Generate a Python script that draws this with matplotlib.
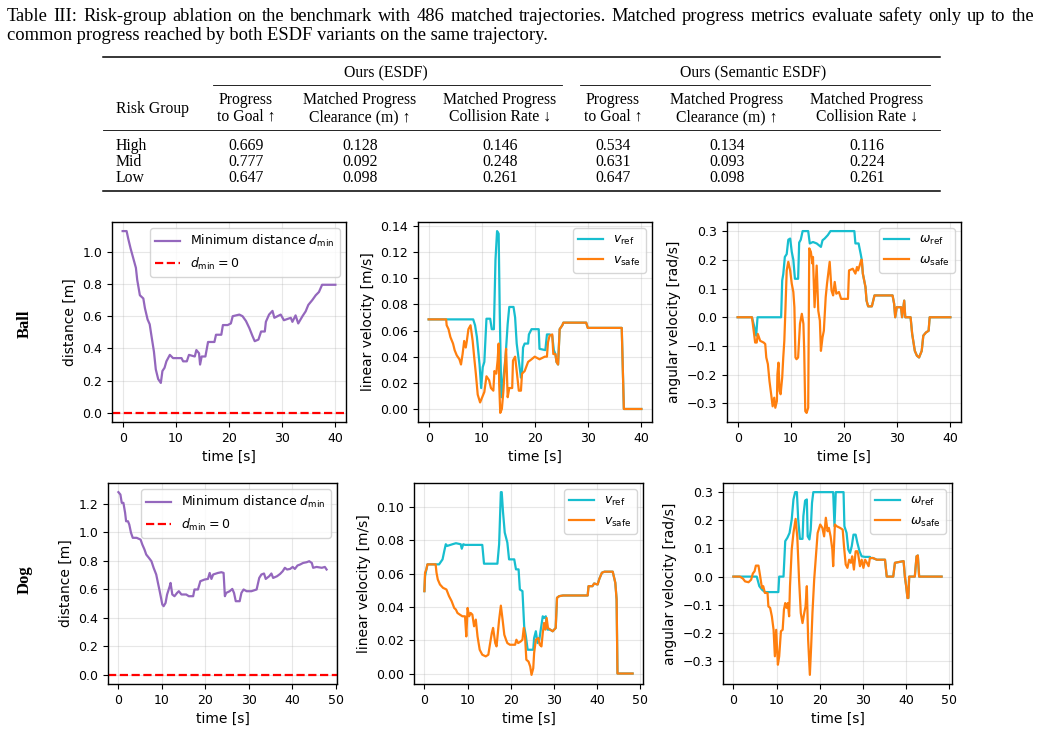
import numpy as np
import matplotlib.pyplot as plt
from matplotlib.lines import Line2D

W, H = 1041, 735
SERIF = ['Liberation Serif', 'DejaVu Serif']

# ---------------- table data ----------------
caption_1 = ("Table III: Risk-group ablation on the benchmark with 486 matched trajectories. "
             "Matched progress metrics evaluate safety only up to the")
caption_2 = "common progress reached by both ESDF variants on the same trajectory."
method_groups = ["Ours (ESDF)", "Ours (Semantic ESDF)"]
col_head_1 = ["Progress", "Matched Progress", "Matched Progress"] * 2
col_head_2 = ["to Goal ↑", "Clearance (m) ↑", "Collision Rate ↓"] * 2
risk_groups = ["High", "Mid", "Low"]
table_vals = [
    [0.669, 0.128, 0.146, 0.534, 0.134, 0.116],
    [0.777, 0.092, 0.248, 0.631, 0.093, 0.224],
    [0.647, 0.098, 0.261, 0.647, 0.098, 0.261],
]

# ---------------- Ball ----------------
ball_d_t = [0, 0.75, 1.06, 1.5, 2, 2.5, 2.75, 3.25, 3.9, 4.2, 4.7, 5.1, 5.4, 5.9, 6.25, 6.7, 7.2, 7.5, 7.9, 8.25,
            8.9, 9.5, 11.1, 11.4, 12.1, 12.5, 13.6, 13.9, 14.4, 14.6, 14.9, 15.6, 16.1, 17.3, 17.6, 18.6, 18.9, 19.8,
            20.4, 20.75, 22, 22.6, 23.25, 23.9, 24.5, 24.9, 25.6, 26.1, 26.8, 27, 27.6, 28.25, 28.6, 29.8, 30.4, 31.7,
            32, 32.6, 33.1, 33.9, 34.5, 35, 35.75, 36.4, 37, 37.6, 40.1]
ball_d = [1.128, 1.128, 1.08, 1.02, 0.96, 0.90, 0.825, 0.73, 0.71, 0.65, 0.58, 0.55, 0.485, 0.38, 0.27, 0.21, 0.186,
          0.26, 0.28, 0.32, 0.36, 0.34, 0.34, 0.32, 0.32, 0.36, 0.35, 0.39, 0.37, 0.30, 0.35, 0.35, 0.44, 0.44, 0.485,
          0.485, 0.545, 0.545, 0.555, 0.60, 0.61, 0.60, 0.57, 0.525, 0.475, 0.445, 0.455, 0.505, 0.505, 0.565, 0.61,
          0.633, 0.59, 0.61, 0.575, 0.59, 0.565, 0.605, 0.555, 0.60, 0.63, 0.67, 0.70, 0.73, 0.75, 0.795, 0.795]

ball_vref_t = [0, 8.4, 8.75, 9.1, 9.6, 9.9, 10.2, 10.5, 10.9, 11.6, 11.9, 12.3, 12.6, 12.9, 13.2, 13.4, 13.7, 14.1,
               14.5, 14.9, 15.2, 16, 16.3, 16.6, 17, 17.4, 17.6, 17.8, 18.1, 18.75, 18.9, 19.4, 20.75, 20.9, 22, 22.3,
               22.8, 23.3, 23.6]
ball_vref = [0.0685, 0.0685, 0.064, 0.055, 0.034, 0.016, 0.032, 0.036, 0.069, 0.069, 0.061, 0.061, 0.114, 0.136,
             0.134, 0.075, 0.009, 0.024, 0.040, 0.065, 0.078, 0.078, 0.070, 0.050, 0.037, 0.024, 0.029, 0.047, 0.050,
             0.050, 0.057, 0.061, 0.061, 0.046, 0.045, 0.057, 0.057, 0.056, 0.045]
ball_vsafe_t = [0, 3.3, 3.4, 3.75, 4.1, 4.6, 4.9, 5.3, 5.8, 6.1, 6.4, 6.7, 7, 7.2, 7.5, 7.9, 8.3, 8.6, 8.9, 9.25,
                9.7, 10.1, 10.5, 10.9, 11.4, 11.75, 12.2, 12.4, 12.75, 13, 13.2, 13.3, 13.5, 13.8, 14.1, 14.4, 14.6,
                14.9, 15.2, 15.75, 15.9, 16.3, 16.6, 17, 17.4, 17.6, 18.1, 18.75, 19.4, 20, 20.9, 21.9, 22.3, 22.5,
                22.8, 23.3, 23.5]
ball_vsafe = [0.0685, 0.0685, 0.064, 0.061, 0.055, 0.050, 0.045, 0.041, 0.038, 0.034, 0.042, 0.052, 0.047, 0.052,
              0.061, 0.064, 0.052, 0.039, 0.027, 0.011, 0.005, 0.009, 0.013, 0.025, 0.022, 0.016, 0.014, 0.029, 0.027,
              0.037, 0.050, 0.019, -0.003, 0.0, 0.014, 0.034, 0.046, 0.009, 0.016, 0.016, 0.037, 0.040, 0.029, 0.014,
              0.014, 0.027, 0.029, 0.036, 0.038, 0.040, 0.038, 0.040, 0.040, 0.051, 0.056, 0.057, 0.042]
# both velocity commands coincide after ~24 s
ball_v_tail_t = [23.9, 24.1, 24.4, 24.7, 25.2, 25.4, 29.7, 30, 32.5, 32.8, 36.4, 36.8, 40.1]
ball_v_tail = [0.042, 0.036, 0.034, 0.061, 0.064, 0.066, 0.066, 0.062, 0.062, 0.062, 0.062, 0.0, 0.0]

ball_wref_t = [0, 2.7, 3.1, 3.5, 3.75, 8.2, 8.4, 8.6, 8.9, 9.25, 9.55, 9.9, 10.2, 10.5, 10.8, 11.4, 11.6, 11.9,
               12.25, 13.3, 13.6, 14.2, 14.9, 15.7, 16, 16.4, 17, 17.5, 22, 22.2, 22.8, 23.2]
ball_wref = [0, 0, -0.03, -0.064, 0, 0, 0.128, 0.15, 0.21, 0.22, 0.27, 0.274, 0.228, 0.2, 0.134, 0.134, 0.26, 0.27,
             0.3, 0.3, 0.257, 0.262, 0.257, 0.245, 0.268, 0.274, 0.286, 0.3, 0.3, 0.257, 0.257, 0.22]
ball_wsafe_t = [0, 2.7, 3.1, 3.3, 3.6, 3.8, 4.25, 4.9, 5.2, 5.4, 5.7, 6, 6.4, 6.6, 6.9, 7.1, 7.4, 7.5, 7.7, 7.9,
                8.1, 8.4, 8.6, 8.8, 9, 9.25, 9.55, 9.9, 10.2, 10.5, 10.7, 10.9, 11.1, 11.4, 11.75, 12.1, 12.4, 12.55,
                12.75, 13, 13.3, 13.5, 13.8, 14.1, 14.2, 14.5, 14.9, 15.2, 15.5, 15.7, 16, 16.25, 16.6, 16.85, 17,
                17.35, 17.7, 18, 18.3, 18.6, 19.1, 19.5, 20.8, 21, 21.7, 22.2, 22.5, 22.7, 23, 23.3]
ball_wsafe = [0, 0, -0.058, -0.088, -0.088, -0.058, -0.082, -0.088, -0.093, -0.14, -0.163, -0.222, -0.28, -0.31,
              -0.28, -0.315, -0.292, -0.198, -0.158, -0.257, -0.268, -0.21, -0.14, -0.082, 0.023, 0.163, 0.193,
              0.163, 0.117, 0.088, 0.035, -0.14, -0.146, -0.14, -0.023, 0.012, -0.023, -0.117, -0.327, -0.333,
              -0.315, 0.24, 0.228, 0.187, 0.21, 0.035, 0.18, 0.023, -0.012, -0.117, -0.07, -0.047, 0.07, 0.117,
              0.14, 0.193, 0.093, 0.076, 0.123, 0.082, 0.088, 0.064, 0.064, 0.163, 0.169, 0.152, 0.175, 0.163,
              0.18, 0.2]
ball_w_tail_t = [23.4, 23.6, 24.1, 24.3, 24.6, 25.3, 25.8, 29.2, 29.5, 29.7, 30, 30.8, 31, 31.4, 31.6, 32.6, 32.9,
                 33.4, 33.8, 34.2, 34.7, 35, 35.5, 36, 36.2, 40.1]
ball_w_tail = [0.2, 0.152, 0.105, 0.058, 0.038, 0.038, 0.076, 0.076, 0.047, 0.0, 0.035, 0.035, 0.0, 0.058, 0.0,
               0.0, -0.058, -0.117, -0.134, -0.14, -0.117, -0.064, -0.053, -0.047, 0.0, 0.0]

# ---------------- Dog ----------------
dog_d_t = [0, 0.46, 0.77, 1.15, 1.54, 1.77, 2.2, 2.5, 2.9, 3.3, 4.2, 4.7, 5.1, 5.5, 6, 6.4, 7, 7.6, 8.1, 8.7, 9.1,
           9.5, 9.8, 10.1, 10.4, 10.85, 11.2, 11.8, 12, 12.4, 12.9, 13.5, 13.9, 14.5, 15.6, 16.2, 17.2, 17.5, 18.3,
           18.85, 19.85, 20.6, 21, 21.4, 21.8, 22.9, 23.7, 24.2, 24.5, 24.8, 25.6, 26.2, 26.6, 27, 27.9, 28.3, 28.8,
           29.5, 30.6, 31.8, 32.4, 32.9, 33.5, 33.9, 34.7, 35.2, 35.6, 36.5, 37.2, 37.8, 38.3, 38.8, 39.5, 40.1,
           40.6, 41.2, 41.8, 42.5, 43.3, 43.9, 44.5, 44.8, 45.6, 46.8, 47.5, 47.9]
dog_d = [1.28, 1.263, 1.205, 1.205, 1.135, 1.076, 1.076, 1.053, 0.995, 0.96, 0.96, 0.953, 0.948, 0.913, 0.878,
         0.843, 0.82, 0.796, 0.75, 0.703, 0.644, 0.586, 0.54, 0.493, 0.481, 0.504, 0.563, 0.62, 0.644, 0.563, 0.551,
         0.574, 0.586, 0.563, 0.563, 0.551, 0.551, 0.598, 0.598, 0.656, 0.668, 0.672, 0.714, 0.672, 0.703, 0.714,
         0.719, 0.714, 0.551, 0.574, 0.586, 0.602, 0.574, 0.516, 0.516, 0.574, 0.598, 0.586, 0.586, 0.598, 0.679,
         0.703, 0.710, 0.672, 0.691, 0.710, 0.679, 0.691, 0.707, 0.726, 0.75, 0.738, 0.742, 0.756, 0.742, 0.766,
         0.773, 0.784, 0.789, 0.796, 0.784, 0.75, 0.756, 0.75, 0.756, 0.738]

dog_vref_t = [0, 0.15, 0.46, 0.7, 3.4, 4.2, 4.6, 4.95, 5.3, 6.5, 7.3, 8.4, 8.65, 9, 9.4, 13.4, 13.8, 16.9, 17.3,
              17.7, 17.9, 18.2, 18.6, 19.2, 19.6, 20.8, 21.2, 21.8, 22.1, 22.7, 23.1, 23.5, 23.9, 25.2, 25.4, 25.8,
              26.2, 26.6, 27, 27.4, 27.7, 28.1, 28.5]
dog_vref = [0.0495, 0.0585, 0.0626, 0.0656, 0.0656, 0.0686, 0.0736, 0.0777, 0.0767, 0.0777, 0.0783, 0.0777, 0.075,
            0.0777, 0.0773, 0.0773, 0.066, 0.066, 0.0777, 0.109, 0.109, 0.097, 0.0847, 0.0787, 0.0686, 0.0686,
            0.0626, 0.0626, 0.0505, 0.0495, 0.0284, 0.0223, 0.0143, 0.0143, 0.0213, 0.0254, 0.0183, 0.0203, 0.0274,
            0.0344, 0.0334, 0.0344, 0.0264]
dog_vsafe_t = [0, 0.15, 0.46, 0.7, 2.6, 2.8, 3.1, 3.6, 4.3, 5.1, 5.7, 6.3, 6.9, 7.3, 7.65, 8.2, 8.8, 9.4, 9.7, 10,
               10.35, 10.7, 11.1, 11.5, 11.9, 12.3, 12.8, 13.4, 14.2, 14.8, 15.1, 15.6, 15.9, 16.4, 16.7, 17, 17.3,
               17.7, 18.1, 18.5, 18.9, 19.2, 19.8, 21, 21.3, 21.7, 22.3, 22.7, 23, 23.3, 23.6, 24.1, 24.5, 24.8,
               25.2, 25.4, 25.8, 26.4, 26.7, 27.1, 27.4, 27.7, 28, 28.3, 28.6]
dog_vsafe = [0.0495, 0.0606, 0.0626, 0.0656, 0.0656, 0.0606, 0.0565, 0.0535, 0.0515, 0.0505, 0.0465, 0.0435,
             0.0394, 0.0384, 0.0364, 0.0354, 0.0344, 0.0344, 0.0223, 0.0394, 0.0344, 0.0364, 0.0354, 0.0284, 0.0324,
             0.0223, 0.0143, 0.0113, 0.0103, 0.0113, 0.0163, 0.0243, 0.0274, 0.0183, 0.0163, 0.0243, 0.0324, 0.0408,
             0.0324, 0.0233, 0.0203, 0.0183, 0.0173, 0.0173, 0.0203, 0.0183, 0.0193, 0.0203, 0.0274, 0.0223, 0.0083,
             0.0072, 0.0042, -0.0008, 0.0032, 0.0123, 0.0203, 0.0213, 0.0173, 0.0163, 0.0243, 0.0304, 0.0264,
             0.0334, 0.0274]
dog_v_tail_t = [29.1, 29.7, 30.4, 30.7, 31.2, 32.1, 37.8, 38, 38.9, 39.3, 40.1, 40.5, 41.1, 41.7, 43.6, 44.2, 44.5,
                44.7, 48.2]
dog_v_tail = [0.0264, 0.0254, 0.0274, 0.0455, 0.0465, 0.0469, 0.0469, 0.0525, 0.0525, 0.0541, 0.0535, 0.0569,
              0.0606, 0.0612, 0.0612, 0.0545, 0.0445, 0.0, 0.0]

dog_wref_t = [0, 5.4, 6, 6.6, 7.3, 10.4, 10.6, 11.6, 12, 12.5, 13, 13.5, 13.9, 14.3, 14.7, 15, 15.4, 16, 16.2, 16.6,
              17, 17.2, 17.6, 17.9, 18.2, 18.5, 23.1, 23.4, 23.7, 25.5, 25.7, 26.2, 26.6, 27, 27.4, 27.8, 28.3, 28.7,
              29.2, 29.7, 30.5, 31.6]
dog_wref = [0, 0, -0.034, -0.046, -0.055, -0.055, 0, 0, 0.126, 0.138, 0.155, 0.203, 0.274, 0.3, 0.3, 0.203, 0.134,
            0.134, 0.215, 0.27, 0.274, 0.143, 0.132, 0.167, 0.262, 0.3, 0.3, 0.179, 0.3, 0.3, 0.179, 0.155, 0.096,
            0.084, 0.108, 0.149, 0.149, 0.12, 0.09, 0.072, 0.07, 0.07]
dog_wsafe_t = [0, 1.5, 2.2, 2.7, 3.5, 4.1, 4.5, 4.9, 5.2, 5.8, 6.2, 6.6, 6.9, 7.3, 7.9, 8.1, 8.5, 8.9, 9.3, 9.6, 9.9,
               10.3, 10.6, 11, 11.4, 11.7, 12, 12.3, 12.6, 12.9, 13.1, 13.5, 13.9, 14.4, 14.8, 15.2, 15.6, 16, 16.4,
               16.7, 17, 17.3, 17.7, 18, 18.3, 18.7, 19.1, 19.5, 20.1, 20.6, 21, 21.4, 21.8, 22.1, 22.5, 22.9, 23.1,
               23.5, 23.9, 24.7, 25.3, 25.6, 26, 26.4, 26.8, 27.2, 27.5, 27.9, 28.3, 28.7, 28.9, 29.3, 29.7, 30.1,
               30.5, 30.9, 31.3]
dog_wsafe = [0, 0, -0.007, -0.017, -0.02, -0.011, 0.011, 0.019, 0.039, 0.039, 0.001, -0.04, -0.034, -0.058, -0.058,
             -0.106, -0.111, -0.141, -0.189, -0.283, -0.189, -0.313, -0.283, -0.194, -0.189, -0.117, -0.094, -0.111,
             -0.094, -0.141, -0.034, 0.096, 0.155, 0.205, 0.138, -0.011, -0.129, -0.165, -0.129, -0.106, -0.034,
             -0.224, -0.349, -0.248, -0.129, -0.011, 0.072, 0.155, 0.185, 0.173, 0.143, 0.209, 0.161, 0.173, 0.143,
             0.096, 0.037, 0.185, 0.179, 0.173, 0.167, 0.108, 0.043, 0.031, 0.06, 0.049, 0.072, 0.025, 0.09, 0.09,
             0.078, 0.037, 0.06, 0.031, 0.06, 0.049, 0.037]
dog_w_tail_t = [31.6, 32.3, 33.2, 35.1, 35.5, 37, 37.4, 39.4, 39.7, 40, 40.3, 40.5, 40.7, 42, 42.4, 42.7, 43, 48.2]
dog_w_tail = [0.066, 0.066, 0.06, 0.06, 0, 0, 0.049, 0.055, 0, -0.034, -0.076, -0.076, 0, 0, 0.072, 0.075, 0, 0]

C_DIST = '#9467bd'
C_REF = '#17becf'
C_SAFE = '#ff7f0e'

plt.rcParams.update({'font.size': 9, 'axes.labelsize': 10, 'xtick.labelsize': 9, 'ytick.labelsize': 9,
                     'legend.fontsize': 9, 'axes.linewidth': 1.0})

fig = plt.figure(figsize=(W / 100, H / 100), dpi=100)


def fx(px):
    return px / W


def fy(py):
    return 1 - py / H


def hline(x0, x1, y, lw):
    fig.add_artist(Line2D([fx(x0), fx(x1)], [fy(y), fy(y)], color='black', lw=lw, transform=fig.transFigure))


# caption: first line justified to the full width, second line left aligned
CAP = 13.3
renderer = fig.canvas.get_renderer()
words = caption_1.split(' ')
word_txt = [fig.text(0, fy(21), w, family=SERIF, fontsize=CAP, va='baseline', ha='left') for w in words]
widths = [t.get_window_extent(renderer).width for t in word_txt]
gap = (1034 - 7 - sum(widths)) / (len(words) - 1)
xpos = 7
for t, w in zip(word_txt, widths):
    t.set_x(fx(xpos))
    xpos += w + gap
fig.text(fx(7), fy(40), caption_2, family=SERIF, fontsize=CAP, va='baseline', ha='left')

# table
TS = 11.3
hline(103, 940, 57, 1.1)
group_x = [386, 753]
group_span = [(213, 562), (580, 930)]
for name, gx, (a, b) in zip(method_groups, group_x, group_span):
    fig.text(fx(gx), fy(73), name, family=SERIF, fontsize=TS, ha='center', va='center')
    hline(a, b, 85, 0.6)
col_x = [246, 360, 500, 613, 727, 867]
fig.text(fx(116), fy(109), "Risk Group", family=SERIF, fontsize=TS, ha='left', va='center')
for cx, h1, h2 in zip(col_x, col_head_1, col_head_2):
    fig.text(fx(cx), fy(100), h1, family=SERIF, fontsize=TS, ha='center', va='center')
    fig.text(fx(cx), fy(117), h2, family=SERIF, fontsize=TS, ha='center', va='center')
hline(103, 940, 130, 0.6)
row_y = [146, 162, 178]
for ry, grp, vals in zip(row_y, risk_groups, table_vals):
    fig.text(fx(116), fy(ry), grp, family=SERIF, fontsize=TS, ha='left', va='center')
    for cx, v in zip(col_x, vals):
        fig.text(fx(cx), fy(ry), f"{v:.3f}", family=SERIF, fontsize=TS, ha='center', va='center')
hline(103, 940, 191, 1.1)

# subplot boxes in pixels: (left, top, right, bottom)
boxes = [
    [(112, 222, 346, 422), (418, 222, 652, 422), (727, 222, 961, 422)],
    [(108, 483, 337, 684), (414, 483, 643, 684), (723, 483, 952, 684)],
]
axes = []
for row in boxes:
    r = []
    for (l, t, rr, b) in row:
        r.append(fig.add_axes([fx(l), fy(b), (rr - l) / W, (b - t) / H]))
    axes.append(r)

scenarios = [
    (ball_d_t, ball_d,
     np.concatenate([ball_vref_t, ball_v_tail_t]), np.concatenate([ball_vref, ball_v_tail]),
     np.concatenate([ball_vsafe_t, ball_v_tail_t]), np.concatenate([ball_vsafe, ball_v_tail]),
     np.concatenate([ball_wref_t, ball_w_tail_t]), np.concatenate([ball_wref, ball_w_tail]),
     np.concatenate([ball_wsafe_t, ball_w_tail_t]), np.concatenate([ball_wsafe, ball_w_tail])),
    (dog_d_t, dog_d,
     np.concatenate([dog_vref_t, dog_v_tail_t]), np.concatenate([dog_vref, dog_v_tail]),
     np.concatenate([dog_vsafe_t, dog_v_tail_t]), np.concatenate([dog_vsafe, dog_v_tail]),
     np.concatenate([dog_wref_t, dog_w_tail_t]), np.concatenate([dog_wref, dog_w_tail]),
     np.concatenate([dog_wsafe_t, dog_w_tail_t]), np.concatenate([dog_wsafe, dog_w_tail])),
]

LW = 1.6
for (ax1, ax2, ax3), sc in zip(axes, scenarios):
    dt, d, vrt, vr, vst, vs, wrt, wr, wst, ws = sc
    ax1.plot(dt, d, color=C_DIST, lw=LW, label=r'Minimum distance $d_{\mathrm{min}}$')
    ax1.axhline(0, color='red', ls='--', lw=LW, label=r'$d_{\mathrm{min}} = 0$')
    ax1.set_ylabel('distance [m]')
    ax1.legend(loc='upper right')

    ax2.plot(vrt, vr, color=C_REF, lw=LW, label=r'$v_{\mathrm{ref}}$')
    ax2.plot(vst, vs, color=C_SAFE, lw=LW, label=r'$v_{\mathrm{safe}}$')
    ax2.set_ylabel('linear velocity [m/s]')
    ax2.legend(loc='upper right')

    ax3.plot(wrt, wr, color=C_REF, lw=LW, label=r'$\omega_{\mathrm{ref}}$')
    ax3.plot(wst, ws, color=C_SAFE, lw=LW, label=r'$\omega_{\mathrm{safe}}$')
    ax3.set_ylabel('angular velocity [rad/s]')
    ax3.legend(loc='upper right')

    for ax in (ax1, ax2, ax3):
        ax.set_xlabel('time [s]')
        ax.grid(True, alpha=0.3)

fig.text(fx(25), fy(324), "Ball", family=SERIF, fontsize=12, fontweight='bold', rotation=90,
         ha='center', va='center')
fig.text(fx(25), fy(580), "Dog", family=SERIF, fontsize=12, fontweight='bold', rotation=90,
         ha='center', va='center')

fig.savefig('out.png', dpi=100)
